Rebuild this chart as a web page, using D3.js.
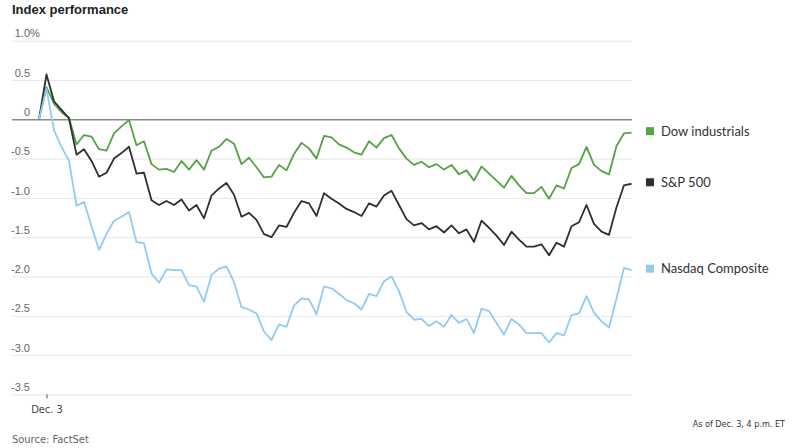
<!DOCTYPE html>
<html>
<head>
<meta charset="utf-8">
<script src="https://cdn.jsdelivr.net/npm/d3@7/dist/d3.min.js"></script>
<style>
  body { margin: 0; background: #fff; }
  svg { display: block; font-family: "Liberation Sans Narrow", "DejaVu Sans Condensed", "Liberation Sans", sans-serif; }
  .grid line { stroke: #e6e6e6; stroke-width: 1; }
  .grid path { display: none; }
  .grid text { fill: #666; font-size: 11px; }
  .line { fill: none; stroke-width: 1.8; stroke-linejoin: round; }
  .legend text { font-family: "Lato", "Liberation Sans", sans-serif; font-size: 13px; fill: #333; }
</style>
</head>
<body>
<svg width="800" height="448"></svg>
<script>
// 5-minute points, previous close first, then 9:30 to 4:00 p.m.
var dow = [0, 0.41, 0.20, 0.09, 0.02, -0.32, -0.20, -0.22, -0.38, -0.40, -0.18, -0.09, -0.01, -0.33, -0.28, -0.57,
  -0.64, -0.63, -0.67, -0.53, -0.64, -0.52, -0.64, -0.40, -0.35, -0.25, -0.31, -0.57, -0.49, -0.61, -0.74,
  -0.73, -0.58, -0.65, -0.44, -0.30, -0.37, -0.50, -0.21, -0.23, -0.32, -0.36, -0.42, -0.45, -0.28, -0.36,
  -0.24, -0.20, -0.37, -0.50, -0.58, -0.54, -0.61, -0.57, -0.64, -0.58, -0.70, -0.65, -0.78, -0.60, -0.69,
  -0.78, -0.87, -0.72, -0.84, -0.94, -0.94, -0.86, -1.01, -0.84, -0.88, -0.62, -0.57, -0.35, -0.58, -0.66,
  -0.70, -0.34, -0.18, -0.17];
var sp500 = [0, 0.57, 0.23, 0.12, 0.01, -0.45, -0.38, -0.53, -0.73, -0.68, -0.50, -0.43, -0.35, -0.69, -0.68, -1.03,
  -1.09, -1.04, -1.09, -1.02, -1.16, -1.09, -1.26, -0.97, -0.88, -0.81, -0.96, -1.24, -1.19, -1.28, -1.46,
  -1.50, -1.35, -1.37, -1.19, -1.04, -1.07, -1.23, -0.94, -1.01, -1.07, -1.14, -1.18, -1.23, -1.07, -1.11,
  -0.97, -0.91, -1.09, -1.27, -1.35, -1.32, -1.40, -1.36, -1.44, -1.35, -1.45, -1.40, -1.56, -1.29, -1.38,
  -1.48, -1.60, -1.43, -1.53, -1.62, -1.62, -1.59, -1.73, -1.57, -1.62, -1.36, -1.31, -1.09, -1.33, -1.43,
  -1.47, -1.12, -0.84, -0.82];
var nasdaq = [0, 0.39, -0.14, -0.35, -0.53, -1.10, -1.05, -1.36, -1.66, -1.46, -1.29, -1.24, -1.18, -1.56, -1.58, -1.96,
  -2.08, -1.91, -1.92, -1.92, -2.11, -2.13, -2.32, -1.98, -1.90, -1.87, -2.07, -2.39, -2.42, -2.47, -2.70,
  -2.81, -2.61, -2.64, -2.37, -2.28, -2.29, -2.48, -2.13, -2.15, -2.22, -2.30, -2.34, -2.42, -2.22, -2.25,
  -2.06, -2.00, -2.19, -2.45, -2.55, -2.54, -2.63, -2.57, -2.64, -2.49, -2.59, -2.54, -2.72, -2.41, -2.44,
  -2.59, -2.74, -2.54, -2.61, -2.72, -2.72, -2.72, -2.84, -2.72, -2.75, -2.49, -2.47, -2.25, -2.46, -2.57,
  -2.65, -2.28, -1.89, -1.92];

var seriesNames = ["Dow industrials", "S&P 500", "Nasdaq Composite"];
var seriesColors = ["#55a244", "#2f2f2f", "#92cbf0"];
var yTicks = [1, 0.5, 0, -0.5, -1, -1.5, -2, -2.5, -3, -3.5];
var yTickLabels = ["1.0", "0.5", "0", "-0.5", "-1.0", "-1.5", "-2.0", "-2.5", "-3.0", "-3.5"];
var xTickLabel = "Dec. 3";

var svg = d3.select("svg");
var gridLeft = 12, gridRight = 632;

var x = d3.scaleLinear()
    .domain([0, dow.length - 1])
    .range([39, 631.5]);

var y = d3.scaleLinear()
    .domain([-3.5, 1])
    .range([394.4, 40.7]);

svg.append("text")
    .attr("x", 12)
    .attr("y", 14)
    .style("font-family", "'Liberation Sans', Arial, sans-serif")
    .style("font-weight", "bold")
    .style("font-size", "13px")
    .style("fill", "#222")
    .text("Index performance");

var grid = svg.append("g")
    .attr("class", "grid")
    .attr("transform", "translate(" + gridLeft + ",0)")
    .call(d3.axisLeft(y)
        .tickValues(yTicks)
        .tickSize(-(gridRight - gridLeft))
        .tickFormat(function(d, i) { return yTickLabels[i]; }));

grid.selectAll(".tick text")
    .attr("x", 18)
    .attr("dy", "-0.35em")
    .attr("text-anchor", "end");

grid.selectAll(".tick line")
    .filter(function(d) { return d === 0; })
    .style("stroke", "#8a8a8a")
    .style("stroke-width", 1.5);

// percent sign hangs after the top label
grid.selectAll(".tick")
    .filter(function(d) { return d === 1; })
  .append("text")
    .attr("x", 18)
    .attr("dy", "-0.35em")
    .attr("text-anchor", "start")
    .text("%");

var xAxis = svg.append("g")
    .attr("transform", "translate(0," + y(-3.5) + ")")
    .call(d3.axisBottom(x).tickValues([1]).tickSize(4).tickFormat(function() { return xTickLabel; }));
xAxis.select(".domain").remove();
xAxis.selectAll("line").style("stroke", "#555");
xAxis.selectAll("text")
    .attr("y", 11)
    .style("font-size", "11px")
    .style("fill", "#444")
    .style("font-family", "'Liberation Sans Narrow', 'DejaVu Sans Condensed', sans-serif");

var line = d3.line()
    .x(function(d, i) { return x(i); })
    .y(function(d) { return y(d); });

var all = [dow, sp500, nasdaq];

svg.selectAll(".line")
    .data(all)
  .enter().append("path")
    .attr("class", "line")
    .style("stroke", function(d, i) { return seriesColors[i]; })
    .attr("d", line);

var legend = svg.selectAll(".legend")
    .data(all)
  .enter().append("g")
    .attr("class", "legend")
    .attr("transform", function(d) { return "translate(646," + (y(d[d.length - 1]) - 1.5) + ")"; });

legend.append("rect")
    .attr("x", 0)
    .attr("y", -4)
    .attr("width", 8)
    .attr("height", 8)
    .style("fill", function(d, i) { return seriesColors[i]; });

legend.append("text")
    .attr("x", 15)
    .attr("dy", "0.35em")
    .text(function(d, i) { return seriesNames[i]; });

svg.append("text")
    .attr("x", 785)
    .attr("y", 427)
    .attr("text-anchor", "end")
    .style("font-size", "9px")
    .style("fill", "#333")
    .text("As of Dec. 3, 4 p.m. ET");

svg.append("text")
    .attr("x", 12)
    .attr("y", 443)
    .style("font-size", "11px")
    .style("fill", "#666")
    .text("Source: FactSet");
</script>
</body>
</html>
